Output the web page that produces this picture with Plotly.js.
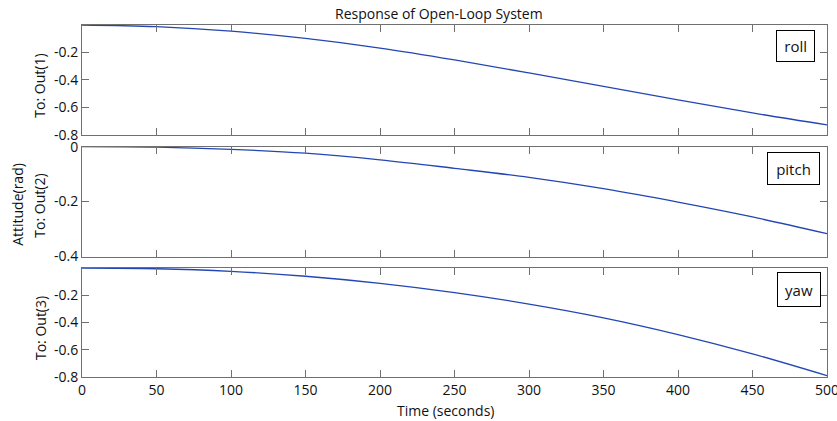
<!DOCTYPE html>
<html>
<head>
<meta charset="utf-8">
<script src="https://cdn.plot.ly/plotly-3.0.1.min.js"></script>
<style>html,body{margin:0;padding:0;background:#fff;}#chart{width:837px;height:421px;}</style>
</head>
<body>
<div id="chart"></div>
<script>
// ---- data ----
const time = [0, 50, 100, 150, 200, 250, 300, 350, 400, 450, 500];
const roll = [0, -0.012, -0.045, -0.098, -0.168, -0.254, -0.349, -0.447, -0.545, -0.640, -0.727];
const pitch = [0, -0.002, -0.010, -0.024, -0.048, -0.079, -0.112, -0.153, -0.202, -0.256, -0.317];
const yaw = [0, -0.005, -0.024, -0.060, -0.112, -0.180, -0.264, -0.365, -0.488, -0.630, -0.790];
const xTicks = [0, 50, 100, 150, 200, 250, 300, 350, 400, 450, 500];
const yTicks1 = [-0.8, -0.6, -0.4, -0.2];
const yTicks2 = [-0.4, -0.2, 0];
const yTicks3 = [-0.8, -0.6, -0.4, -0.2];
const seriesNames = ['roll', 'pitch', 'yaw'];
const yLabels = ['To: Out(1)', 'To: Out(2)', 'To: Out(3)'];
const chartTitle = 'Response of Open-Loop System';
const xTitle = 'Time (seconds)';
const yCommon = 'Attitude(rad)';

// ---- layout helpers ----
const W = 837, H = 421;
const L = 82, R = 827, T = 25, B = 377.3;
const px = x => (x - L) / (R - L);
const py = y => (B - y) / (B - T);
const FONT = 'Open Sans';
const FS = 14;
const frame = '#707070';
const lineColor = '#2446b4';
const tickLabel = v => (v === 0 ? '0' : v.toFixed(1));

function xax(anchor, showLabels) {
  return {
    domain: [0, 1], range: [0, 500], anchor: anchor,
    tickmode: 'array', tickvals: xTicks, ticktext: xTicks.map(String),
    showticklabels: showLabels, ticks: 'inside', ticklen: 7, tickcolor: frame,
    ticklabeloverflow: 'allow',
    showline: true, linecolor: frame, linewidth: 1, mirror: 'allticks',
    showgrid: false, zeroline: false, fixedrange: true,
    tickfont: {family: FONT, size: FS, color: '#111'}
  };
}
function yax(anchor, dom, rng, ticks) {
  return {
    domain: dom, range: rng, anchor: anchor,
    tickmode: 'array', tickvals: ticks, ticktext: ticks.map(tickLabel),
    ticks: 'inside', ticklen: 7, tickcolor: frame, ticklabeloverflow: 'allow',
    showline: true, linecolor: frame, linewidth: 1, mirror: 'allticks',
    showgrid: false, zeroline: false, fixedrange: true,
    tickfont: {family: FONT, size: FS, color: '#111'}
  };
}

const trace = (y, xa, ya) => ({
  x: time, y: y, xaxis: xa, yaxis: ya, type: 'scatter', mode: 'lines',
  line: {color: lineColor, width: 1.3, shape: 'spline', smoothing: 1},
  showlegend: false, hoverinfo: 'skip'
});

const data = [trace(roll, 'x', 'y'), trace(pitch, 'x2', 'y2'), trace(yaw, 'x3', 'y3')];

const boxes = [
  {name: seriesNames[0], x0: 775.7, x1: 815, y0: 30, y1: 61.7},
  {name: seriesNames[1], x0: 767, x1: 820, y0: 151.7, y1: 185},
  {name: seriesNames[2], x0: 776.7, x1: 820.7, y0: 272.7, y1: 307.7}
];

const annotations = [];
boxes.forEach(b => {
  annotations.push({
    xref: 'paper', yref: 'paper', x: px((b.x0 + b.x1) / 2), y: py((b.y0 + b.y1) / 2),
    xanchor: 'center', yanchor: 'middle', text: b.name, showarrow: false,
    width: b.x1 - b.x0 - 2, height: b.y1 - b.y0 - 2, borderpad: 0,
    bordercolor: '#000', borderwidth: 1, bgcolor: '#fff',
    font: {family: FONT, size: 15, color: '#111'}
  });
});
const ylabPos = [[40, 85.7], [40, 205.8], [40, 328.3]];
yLabels.forEach((t, i) => {
  annotations.push({
    xref: 'paper', yref: 'paper', x: px(ylabPos[i][0]), y: py(ylabPos[i][1]),
    xanchor: 'center', yanchor: 'middle', textangle: -90, text: t, showarrow: false,
    font: {family: FONT, size: FS, color: '#111'}
  });
});
annotations.push({
  xref: 'paper', yref: 'paper', x: px(18), y: py(205), xanchor: 'center', yanchor: 'middle',
  textangle: -90, text: yCommon, showarrow: false, font: {family: FONT, size: FS, color: '#111'}
});
annotations.push({
  xref: 'paper', yref: 'paper', x: px(445.8), y: py(410.7), xanchor: 'center', yanchor: 'middle',
  text: xTitle, showarrow: false, font: {family: FONT, size: FS, color: '#111'}
});
annotations.push({
  xref: 'paper', yref: 'paper', x: px(438.8), y: py(13.3), xanchor: 'center', yanchor: 'middle',
  text: chartTitle, showarrow: false, font: {family: FONT, size: FS, color: '#111'}
});

const layout = {
  width: W, height: H,
  margin: {l: L, r: W - R, t: T, b: H - B, pad: 0},
  paper_bgcolor: '#fff', plot_bgcolor: '#fff',
  showlegend: false,
  xaxis: xax('y', false),
  yaxis: yax('x', [py(135), 1], [-0.8, 0], yTicks1),
  xaxis2: xax('y2', false),
  yaxis2: yax('x2', [py(256.7), py(146.7)], [-0.4, 0], yTicks2),
  xaxis3: xax('y3', true),
  yaxis3: yax('x3', [0, py(268.3)], [-0.8, 0], yTicks3),
  annotations: annotations
};

Plotly.newPlot('chart', data, layout, {staticPlot: true, displayModeBar: false});
</script>
</body>
</html>
